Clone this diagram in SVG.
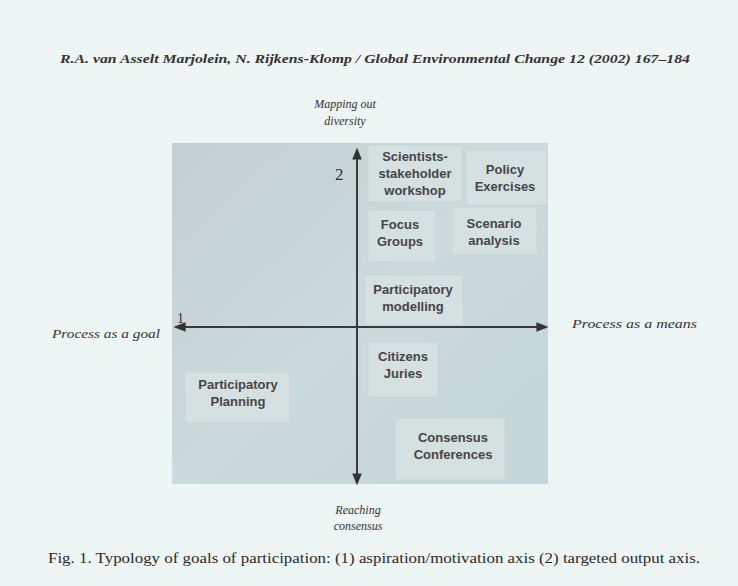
<svg xmlns="http://www.w3.org/2000/svg" width="738" height="586" viewBox="0 0 738 586">
<defs>
<linearGradient id="pg" x1="0" y1="0" x2="1" y2="1">
<stop offset="0" stop-color="#c4cfd1"/>
<stop offset="0.5" stop-color="#cbdadc"/>
<stop offset="1" stop-color="#c3d5d8"/>
</linearGradient>
<marker id="ah" viewBox="0 0 10 10" refX="8" refY="5" markerWidth="6" markerHeight="6" orient="auto-start-reverse">
<path d="M0,1 L10,5 L0,9 z" fill="#333"/>
</marker>
<style>
.ser{font-family:"Liberation Serif","Times New Roman",serif;font-style:italic;fill:#333;}
.nd rect{fill:#d5e0e1;stroke:#c9d4d5;stroke-width:1;}
.nd text{font-family:"Liberation Sans",Arial,sans-serif;font-weight:bold;font-size:13px;fill:#454545;text-anchor:middle;}
.ax{stroke:#3a3a3a;stroke-width:2;fill:none;}
</style>
</defs>
<rect x="0" y="0" width="738" height="586" fill="#eef5f5"/>
<text class="ser" x="60" y="63" font-size="13" font-weight="bold" textLength="630" lengthAdjust="spacingAndGlyphs">R.A. van Asselt Marjolein, N. Rijkens-Klomp / Global Environmental Change 12 (2002) 167–184</text>
<rect x="172" y="143" width="376" height="341" fill="url(#pg)"/>
<g id="axes">
<line class="ax" x1="357" y1="483" x2="357" y2="150" marker-end="url(#ah)" marker-start="url(#ah)"/>
<line class="ax" x1="176" y1="327" x2="546" y2="327" marker-end="url(#ah)" marker-start="url(#ah)"/>
</g>
<text class="ser" x="345" y="108" font-size="12" text-anchor="middle">Mapping out</text>
<text class="ser" x="345" y="125" font-size="12" text-anchor="middle">diversity</text>
<text class="ser" x="358" y="514" font-size="12" text-anchor="middle">Reaching</text>
<text class="ser" x="358" y="530" font-size="12" text-anchor="middle">consensus</text>
<text class="ser" x="52" y="338" font-size="12" textLength="108" lengthAdjust="spacingAndGlyphs">Process as a goal</text>
<text class="ser" x="572" y="328" font-size="12" textLength="125" lengthAdjust="spacingAndGlyphs">Process as a means</text>
<text x="177" y="323" font-family="Liberation Serif,serif" font-size="14" fill="#333">1</text>
<text x="335" y="180" font-family="Liberation Serif,serif" font-size="17" fill="#333">2</text>
<g id="n1" class="nd"><rect x="368" y="145" width="94" height="57"/><text x="415" y="161">Scientists-</text><text x="415" y="178">stakeholder</text><text x="415" y="195">workshop</text></g>
<g id="n2" class="nd"><rect x="466" y="150" width="81" height="55"/><text x="505" y="174">Policy</text><text x="505" y="191">Exercises</text></g>
<g id="n3" class="nd"><rect x="368" y="210" width="68" height="52"/><text x="400" y="229">Focus</text><text x="400" y="246">Groups</text></g>
<g id="n4" class="nd"><rect x="452" y="207" width="85" height="48"/><text x="494" y="228">Scenario</text><text x="494" y="245">analysis</text></g>
<g id="n5" class="nd"><rect x="365" y="275" width="98" height="50"/><text x="413" y="294">Participatory</text><text x="413" y="311">modelling</text></g>
<g id="n6" class="nd"><rect x="368" y="342" width="70" height="55"/><text x="403" y="361">Citizens</text><text x="403" y="378">Juries</text></g>
<g id="n7" class="nd"><rect x="185" y="372" width="105" height="51"/><text x="238" y="389">Participatory</text><text x="238" y="406">Planning</text></g>
<g id="n8" class="nd"><rect x="395" y="418" width="110" height="62"/><text x="453" y="442">Consensus</text><text x="453" y="459">Conferences</text></g>
<text x="48" y="563" font-family="Liberation Serif,serif" font-size="14" fill="#2a2a2a" textLength="652" lengthAdjust="spacingAndGlyphs">Fig. 1. Typology of goals of participation: (1) aspiration/motivation axis (2) targeted output axis.</text>
</svg>
